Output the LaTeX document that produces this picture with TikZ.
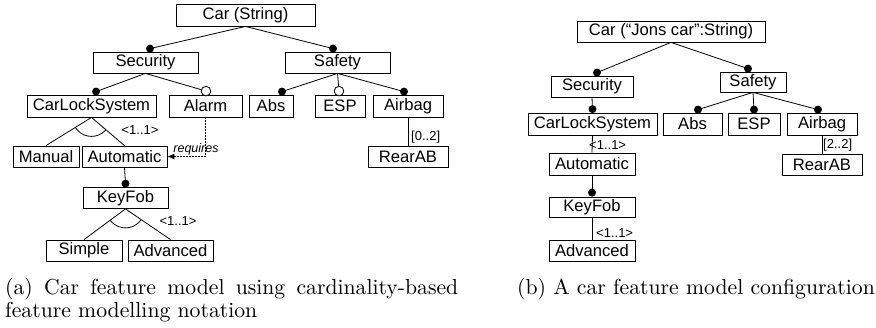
\documentclass[tikz,border=0pt]{standalone}
\usepackage{fontspec}
\newfontfamily\dfont{Liberation Sans}
\usetikzlibrary{calc,arrows.meta}
\begin{document}
\begin{tikzpicture}[x=1pt,y=-1pt,
  fbox/.style={draw, line width=0.8pt, inner sep=0pt, font=\dfont\fontsize{16.6}{18}\selectfont},
  conn/.style={line width=0.8pt},
  lbl/.style={inner sep=0pt, font=\dfont\fontsize{13}{14}\selectfont},
  reqlbl/.style={inner sep=0pt, font=\dfont\itshape\fontsize{12.5}{14}\selectfont},
  mdot/.style={fill=black},
  odot/.style={draw, fill=white, line width=0.8pt},
  reqline/.style={line width=0.8pt, dash pattern=on 1.5pt off 1.5pt, -{Latex[length=7pt,width=6pt]}}]
\useasboundingbox (0,0) rectangle (876,327);

% ---------- left diagram ----------
\node[fbox, minimum width=139pt, minimum height=22pt] (car) at (245.5,15) {Car (String)};
\node[fbox, minimum width=105pt, minimum height=21pt] (security) at (145.5,62.5) {Security};
\node[fbox, minimum width=105pt, minimum height=21pt] (safety) at (337.5,62.5) {Safety};
\node[fbox, minimum width=129pt, minimum height=22pt] (cls) at (91.5,106) {CarLockSystem};
\node[fbox, minimum width=73pt, minimum height=22pt] (alarm) at (205.5,106) {Alarm};
\node[fbox, minimum width=44pt, minimum height=22pt] (abs) at (271,106) {Abs};
\node[fbox, minimum width=50pt, minimum height=22pt] (esp) at (340,106) {ESP};
\node[fbox, minimum width=70pt, minimum height=22pt] (airbag) at (408,106) {Airbag};
\node[fbox, minimum width=80pt, minimum height=21pt] (rearab) at (408,156.5) {RearAB};
\node[fbox, minimum width=66pt, minimum height=21pt] (manual) at (46,156.5) {Manual};
\node[fbox, minimum width=85pt, minimum height=21pt] (automatic) at (124.5,156.5) {Automatic};
\node[fbox, minimum width=85pt, minimum height=21pt] (keyfob) at (125.5,198) {KeyFob};
\node[fbox, minimum width=76pt, minimum height=21pt] (simple) at (84,250.5) {Simple};
\node[fbox, minimum width=85pt, minimum height=21pt] (advanced) at (170.5,250.5) {Advanced};

\coordinate (dsec) at ($(security.north)+(4.5,-3)$);
\coordinate (dsaf) at ($(safety.north)+(-4.5,-3)$);
\coordinate (dcls) at ($(cls.north)+(4.5,-3)$);
\coordinate (dalarm) at ($(alarm.north)+(0.5,-3.5)$);
\coordinate (dabs) at ($(abs.north)+(11,-3)$);
\coordinate (desp) at ($(esp.north)+(-1,-3.5)$);
\coordinate (dair) at ($(airbag.north)+(-4,-3)$);
\coordinate (dkey) at ($(keyfob.north)+(0,-3.5)$);

\draw[conn] (car.south) -- (dsec);
\draw[conn] (car.south) -- (dsaf);
\draw[conn] (security.south) -- (dcls);
\draw[conn] (security.south) -- (dalarm);
\draw[conn] (safety.south) -- (dabs);
\draw[conn] (safety.south) -- (desp);
\draw[conn] (safety.south) -- (dair);
\draw[conn] (automatic.south) -- (dkey);
\draw[conn] (airbag.south) -- (rearab.north);

\fill[mdot] (dsec) circle[radius=4pt];
\fill[mdot] (dsaf) circle[radius=4pt];
\fill[mdot] (dcls) circle[radius=4pt];
\fill[mdot] (dabs) circle[radius=4pt];
\fill[mdot] (dair) circle[radius=4pt];
\fill[mdot] (dkey) circle[radius=4pt];
\draw[odot] (dalarm) circle[radius=4.8pt];
\draw[odot] (desp) circle[radius=4.8pt];

% group CarLockSystem
\draw[conn] (manual.north) -- (cls.south) -- (automatic.north);
\begin{scope}
  \clip (cls.south) -- ($(cls.south)!4!(manual.north)$) -- ($(cls.south)!4!(automatic.north)$) -- cycle;
  \draw[conn] (cls.south) circle[radius=19pt];
\end{scope}
\node[lbl] (g1) at (140,130) {<1..1>};

% group KeyFob
\draw[conn] (simple.north) -- (keyfob.south) -- (advanced.north);
\begin{scope}
  \clip (keyfob.south) -- ($(keyfob.south)!4!(simple.north)$) -- ($(keyfob.south)!4!(advanced.north)$) -- cycle;
  \draw[conn] (keyfob.south) circle[radius=19pt];
\end{scope}
\node[lbl] (g2) at (178,221) {<1..1>};

\node[lbl, anchor=west] (c1) at (411,137) {[0..2]};

% requires
\draw[reqline] (alarm.south) |- (automatic.east);
\node[reqlbl] (req) at (196,149) {requires};

% ---------- right diagram ----------
\node[fbox, minimum width=188pt, minimum height=21pt] (car2) at (671,31.5) {Car (“Jons car”:String)};
\node[fbox, minimum width=82pt, minimum height=21pt] (security2) at (592,86.5) {Security};
\node[fbox, minimum width=66pt, minimum height=20pt] (safety2) at (753,82) {Safety};
\node[fbox, minimum width=129pt, minimum height=22pt] (cls2) at (592.5,124) {CarLockSystem};
\node[fbox, minimum width=59pt, minimum height=22pt] (abs2) at (692.5,124) {Abs};
\node[fbox, minimum width=52pt, minimum height=22pt] (esp2) at (754,124) {ESP};
\node[fbox, minimum width=70pt, minimum height=22pt] (airbag2) at (822,124) {Airbag};
\node[fbox, minimum width=80pt, minimum height=21pt] (rearab2) at (822,164.5) {RearAB};
\node[fbox, minimum width=86pt, minimum height=22pt] (automatic2) at (592,164) {Automatic};
\node[fbox, minimum width=86pt, minimum height=20pt] (keyfob2) at (592,207) {KeyFob};
\node[fbox, minimum width=86pt, minimum height=21pt] (advanced2) at (592,250.5) {Advanced};

\coordinate (esec) at ($(security2.north)+(5,-3)$);
\coordinate (esaf) at ($(safety2.north)+(-5,-3)$);
\coordinate (ecls) at ($(cls2.north)+(0,-3.5)$);
\coordinate (eabs) at ($(abs2.north)+(5.5,-3)$);
\coordinate (eesp) at ($(esp2.north)+(0,-3)$);
\coordinate (eair) at ($(airbag2.north)+(-4,-3)$);
\coordinate (ekey) at ($(keyfob2.north)+(0,-4)$);

\draw[conn] (car2.south) -- (esec);
\draw[conn] (car2.south) -- (esaf);
\draw[conn] (security2.south) -- (ecls);
\draw[conn] (safety2.south) -- (eabs);
\draw[conn] (safety2.south) -- (eesp);
\draw[conn] (safety2.south) -- (eair);
\draw[conn] (automatic2.south) -- (ekey);
\draw[conn] (cls2.south) -- (automatic2.north);
\draw[conn] (keyfob2.south) -- (advanced2.north);
\draw[conn] (airbag2.south) -- (rearab2.north);

\fill[mdot] (esec) circle[radius=4pt];
\fill[mdot] (esaf) circle[radius=4pt];
\fill[mdot] (ecls) circle[radius=4pt];
\fill[mdot] (eabs) circle[radius=4pt];
\fill[mdot] (eesp) circle[radius=4pt];
\fill[mdot] (eair) circle[radius=4pt];
\fill[mdot] (ekey) circle[radius=4pt];

\node[lbl, anchor=west] (g3) at (589,145) {<1..1>};
\node[lbl, anchor=west] (g4) at (596,233) {<1..1>};
\node[lbl, anchor=west] (c2) at (823,145) {[2..2]};

% ---------- captions ----------
\node[anchor=base west, inner sep=0pt] (capa) at (5,294)
  {\scalebox{2.17}{\parbox[t]{208.8pt}{\fontsize{10}{10.6}\selectfont (a) Car feature model using cardinality-based feature modelling notation}}};
\node[anchor=base west, inner sep=0pt] (capb) at (517,294)
  {\scalebox{2.17}{\fontsize{10}{12}\selectfont (b) A car feature model configuration}};
\end{tikzpicture}
\end{document}
